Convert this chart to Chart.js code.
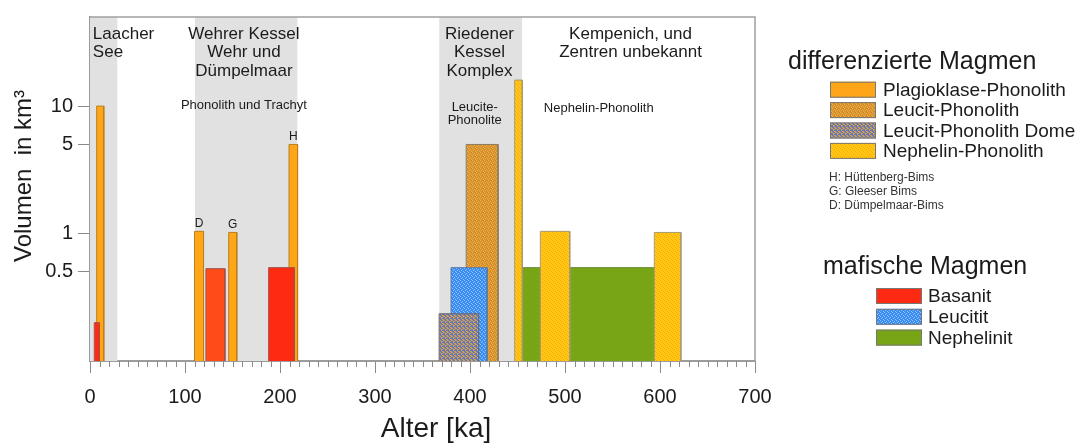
<!DOCTYPE html>
<html><head><meta charset="utf-8">
<script src="https://cdn.jsdelivr.net/npm/chart.js@4.4.1/dist/chart.umd.min.js"></script>
<style>html,body{margin:0;padding:0;background:#fff;}canvas{display:block}</style>
</head><body>
<canvas id="c" width="1084" height="446"></canvas>
<script>
// ---------- data ----------
const xTickValues = [0, 100, 200, 300, 400, 500, 600, 700];
const yTickValues = [0.5, 1, 5, 10];
const xTitle = 'Alter [ka]';
const yTitle = 'Volumen  in km³';
// bars listed bottom-to-top drawing order
const barType = ['Plagioklase-Phonolith','Basanit','Plagioklase-Phonolith','Basanit','Plagioklase-Phonolith','Plagioklase-Phonolith','Basanit',
                 'Leucit-Phonolith','Leucitit','Leucit-Phonolith Dome','Nephelinit','Nephelin-Phonolith','Nephelin-Phonolith','Nephelin-Phonolith'];
const ageFrom = [7, 4.5, 110, 122, 146, 209.5, 188, 396, 380, 367.5, 455, 447, 474, 594];
const ageTo   = [14.5, 10, 119.5, 142, 154.5, 218.5, 215, 429.5, 418, 409, 595, 455, 505, 622];
const volume  = [10, 0.2, 1.04, 0.53, 1.02, 5, 0.54, 5, 0.54, 0.235, 0.54, 16, 1.04, 1.02];
const regionFrom = [0, 110.5, 367.5];
const regionTo   = [29, 218.5, 455];
const regionLabels = [['Laacher','See'], ['Wehrer Kessel','Wehr und','Dümpelmaar'], ['Riedener','Kessel','Komplex'], ['Kempenich, und','Zentren unbekannt']];
const regionLabelAge = [3, 162, 410, 569];
const rockLabels = [['Phonolith und Trachyt'], ['Leucite-','Phonolite'], ['Nephelin-Phonolith']];
const rockLabelAge = [162, 405, 535.5];
const tephraLetters = ['D','G','H'];
const tephraBar = [2, 4, 5];
const differentiated = ['Plagioklase-Phonolith','Leucit-Phonolith','Leucit-Phonolith Dome','Nephelin-Phonolith'];
const mafic = ['Basanit','Leucitit','Nephelinit'];
const tephraNotes = ['H: Hüttenberg-Bims','G: Gleeser Bims','D: Dümpelmaar-Bims'];

// ---------- styles ----------
const F = "'Liberation Sans', Arial, sans-serif";
const TXT = '#1b1b1b';
const Y_MIN = 0.1, Y_MAX = 50;
const canvas = document.getElementById('c');
const ctx = canvas.getContext('2d');
function pat(base, dot, dot2) {
  const p = document.createElement('canvas'); p.width = 4; p.height = 4;
  const g = p.getContext('2d');
  g.fillStyle = base; g.fillRect(0, 0, 4, 4);
  g.fillStyle = dot; [[0,0],[2,1],[1,2],[3,3]].forEach(([x,y]) => g.fillRect(x, y, 1, 1));
  if (dot2) { g.fillStyle = dot2; [[2,3],[3,0],[1,1]].forEach(([x,y]) => g.fillRect(x, y, 1, 1)); }
  return ctx.createPattern(p, 'repeat');
}
const STYLE = {
  'Plagioklase-Phonolith': { bg: '#ffa618', bd: '#b8801e' },
  'Leucit-Phonolith':      { bg: pat('#dc952c', '#ecb04c', '#c8852a'), bd: '#8c7c62' },
  'Leucit-Phonolith Dome': { bg: pat('#5f78c0', '#d89a3a', '#e0a848'), bd: '#6a6a7a' },
  'Nephelin-Phonolith':    { bg: pat('#ffc814', '#ffa80c'), bd: '#a89a70' },
  'Basanit':               { bg: '#ff2a12', bd: '#a0504a' },
  'Leucitit':              { bg: pat('#3a8cf2', '#90c6ff'), bd: '#5a7aa8' },
  'Nephelinit':            { bg: '#78a516', bd: '#6a8a3a' }
};
const shadeOverride = { 3: '#ff4c18' };

const regionSets = regionFrom.map((f, i) => ({
  data: [{ x: f, y: Y_MAX }, { x: regionTo[i], y: Y_MAX }],
  fill: 'start', backgroundColor: '#e1e1e1', borderWidth: 0, pointRadius: 0, order: 1000
}));
const barSets = barType.map((t, i) => ({
  label: t,
  data: [{ x: ageFrom[i], y: Y_MIN }, { x: ageFrom[i], y: volume[i] }, { x: ageTo[i], y: volume[i] }, { x: ageTo[i], y: Y_MIN }],
  fill: 'start',
  backgroundColor: shadeOverride[i] || STYLE[t].bg,
  borderColor: STYLE[t].bd, borderWidth: 1, pointRadius: 0, tension: 0, order: -i
}));

function lines(c, arr, x, y, lh) { arr.forEach((s, k) => c.fillText(s, x, y + k * lh)); }

const decor = {
  id: 'decor',
  afterDatasetsDraw(chart) {
    const c = chart.ctx, a = chart.chartArea, xs = chart.scales.x, ys = chart.scales.y;
    c.save();
    c.strokeStyle = '#a0a0a0'; c.lineWidth = 1.5;
    c.beginPath(); c.moveTo(a.left, a.top); c.lineTo(a.right, a.top); c.lineTo(a.right, a.bottom); c.stroke();
    c.strokeStyle = '#8a8a8a'; c.lineWidth = 1;
    for (let v = 10; v < 700; v += 10) {
      if (v % 100 === 0) continue;
      const px = Math.round(xs.getPixelForValue(v)) + 0.5;
      c.beginPath(); c.moveTo(px, a.bottom); c.lineTo(px, a.bottom + 6); c.stroke();
    }
    c.fillStyle = TXT; c.textBaseline = 'middle';
    c.font = '17px ' + F;
    regionLabels.forEach((arr, i) => {
      c.textAlign = i === 0 ? 'left' : 'center';
      lines(c, arr, xs.getPixelForValue(regionLabelAge[i]), 34, 18.5);
    });
    c.font = '13px ' + F; c.textAlign = 'center';
    const rockY = [105, 107, 108];
    rockLabels.forEach((arr, i) => lines(c, arr, xs.getPixelForValue(rockLabelAge[i]), rockY[i], 13.5));
    c.font = '12px ' + F;
    tephraLetters.forEach((s, i) => {
      const b = tephraBar[i];
      c.fillText(s, xs.getPixelForValue((ageFrom[b] + ageTo[b]) / 2), ys.getPixelForValue(volume[b]) - 8);
    });
    c.restore();
  },
  afterDraw(chart) {
    const c = chart.ctx;
    c.save();
    c.fillStyle = TXT; c.textBaseline = 'middle'; c.textAlign = 'center';
    // axis titles
    c.font = '28px ' + F;
    c.fillText(xTitle, 436, 429);
    c.save(); c.translate(24, 176); c.rotate(-Math.PI / 2);
    c.font = '24px ' + F; c.fillText(yTitle, 0, 0); c.restore();
    // legend
    c.textAlign = 'left';
    c.font = '25px ' + F;
    c.fillText('differenzierte Magmen', 788, 62);
    c.fillText('mafische Magmen', 823, 267);
    const sw = (t, x, y) => {
      c.fillStyle = STYLE[t].bg; c.fillRect(x, y - 8, 46, 16);
      c.strokeStyle = '#777'; c.lineWidth = 1; c.strokeRect(x + 0.5, y - 7.5, 45, 15);
    };
    c.font = '19px ' + F;
    differentiated.forEach((t, i) => {
      const y = 89.7 + i * 20.4;
      sw(t, 830, y); c.fillStyle = TXT; c.fillText(t, 883, y + 1);
    });
    mafic.forEach((t, i) => {
      const y = 296 + i * 20.8;
      sw(t, 876, y); c.fillStyle = TXT; c.fillText(t, 928, y + 1);
    });
    c.font = '12px ' + F; c.fillStyle = '#333';
    tephraNotes.forEach((s, i) => c.fillText(s, 829, 178 + i * 13.7));
    c.restore();
  }
};

new Chart(canvas, {
  type: 'line',
  data: { datasets: [...regionSets, ...barSets] },
  options: {
    responsive: false, animation: false, events: [], devicePixelRatio: 1,
    layout: { padding: { left: 0, right: 329, top: 10, bottom: 0 } },
    plugins: { legend: { display: false }, tooltip: { enabled: false } },
    scales: {
      x: {
        type: 'linear', min: 0, max: 700,
        afterFit(s) { s.height = 85; },
        afterBuildTicks(s) { s.ticks = xTickValues.map(v => ({ value: v })); },
        ticks: { color: TXT, font: { size: 20, family: F }, padding: 12, maxRotation: 0, autoSkip: false },
        grid: { drawOnChartArea: false, drawTicks: true, tickLength: 12, color: '#8a8a8a' },
        border: { display: true, color: '#9c9c9c', width: 2 },
        title: { display: false, text: xTitle }
      },
      y: {
        type: 'logarithmic', min: Y_MIN, max: Y_MAX,
        afterFit(s) { s.width = 90; },
        afterBuildTicks(s) { s.ticks = yTickValues.map(v => ({ value: v })); },
        ticks: { color: TXT, font: { size: 20, family: F }, padding: 5, callback: v => String(v) },
        grid: { drawOnChartArea: false, drawTicks: true, tickLength: 12, color: '#8a8a8a' },
        border: { display: true, color: '#9c9c9c', width: 2 },
        title: { display: false, text: yTitle }
      }
    }
  },
  plugins: [decor]
});
</script>
</body></html>
